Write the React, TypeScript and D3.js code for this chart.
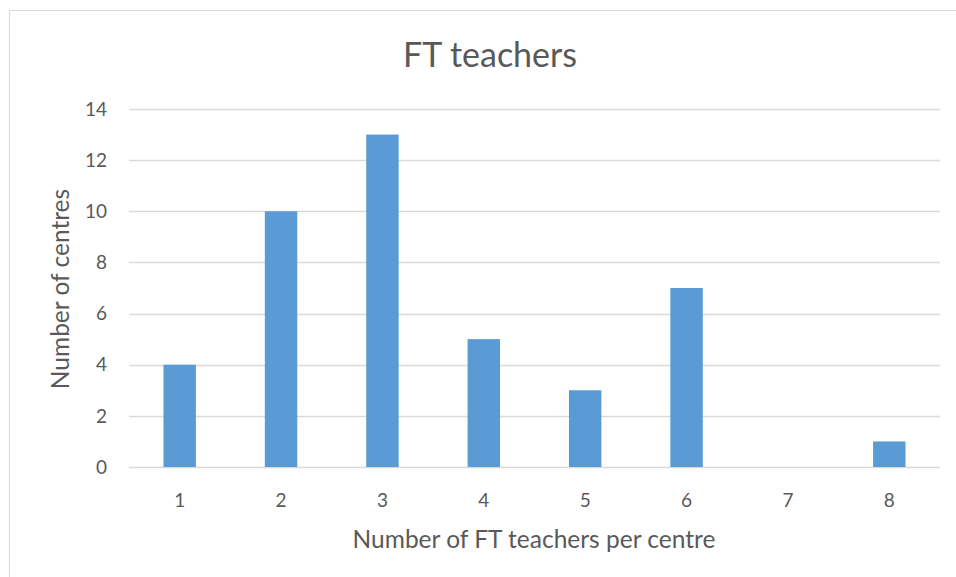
import * as d3 from "d3";
import React from "react";

const categories = ["1", "2", "3", "4", "5", "6", "7", "8"];
const counts = [4, 10, 13, 5, 3, 7, 0, 1];
const yTicks = [0, 2, 4, 6, 8, 10, 12, 14];

const chartTitle = "FT teachers";
const xTitle = "Number of FT teachers per centre";
const yTitle = "Number of centres";

export default function App() {
  const ref = React.useRef<SVGSVGElement | null>(null);

  const width = 956;
  const height = 577;
  const plot = { left: 129, right: 940, top: 109, bottom: 467 };
  const font = "Lato, 'Liberation Sans', sans-serif";
  const textColor = "#595959";

  React.useEffect(() => {
    if (!ref.current) return;
    const svg = d3.select(ref.current);
    svg.selectAll("*").remove();

    svg
      .append("rect")
      .attr("x", 9.5)
      .attr("y", 10.5)
      .attr("width", width + 20)
      .attr("height", height + 20)
      .attr("fill", "#fff")
      .attr("stroke", "#D9D9D9");

    const x = d3
      .scaleBand<string>()
      .domain(categories)
      .range([plot.left, plot.right])
      .paddingInner(0.68)
      .paddingOuter(0.34);

    const y = d3.scaleLinear().domain([0, 14]).range([plot.bottom, plot.top]);

    // gridlines
    svg
      .append("g")
      .selectAll("line")
      .data(yTicks)
      .join("line")
      .attr("x1", plot.left)
      .attr("x2", plot.right)
      .attr("y1", (d) => Math.round(y(d)) + 0.5)
      .attr("y2", (d) => Math.round(y(d)) + 0.5)
      .attr("stroke", "#D9D9D9")
      .attr("stroke-width", 1.3);

    // y tick labels
    svg
      .append("g")
      .selectAll("text")
      .data(yTicks)
      .join("text")
      .text((d) => d)
      .attr("x", 107)
      .attr("y", (d) => y(d))
      .attr("dy", "0.35em")
      .attr("text-anchor", "end")
      .attr("font-family", font)
      .attr("font-size", 19)
      .attr("fill", textColor);

    // bars
    svg
      .append("g")
      .selectAll("rect")
      .data(counts)
      .join("rect")
      .attr("x", (d, i) => x(categories[i])!)
      .attr("y", (d) => y(d))
      .attr("width", x.bandwidth())
      .attr("height", (d) => y(0) - y(d))
      .attr("fill", "#5B9BD5");

    // x tick labels
    svg
      .append("g")
      .selectAll("text")
      .data(categories)
      .join("text")
      .text((d) => d)
      .attr("x", (d) => x(d)! + x.bandwidth() / 2)
      .attr("y", 500)
      .attr("dy", "0.35em")
      .attr("text-anchor", "middle")
      .attr("font-family", font)
      .attr("font-size", 19)
      .attr("fill", textColor);

    svg
      .append("text")
      .text(chartTitle)
      .attr("x", 490)
      .attr("y", 55)
      .attr("dy", "0.35em")
      .attr("text-anchor", "middle")
      .attr("font-family", font)
      .attr("font-size", 34)
      .attr("fill", textColor);

    svg
      .append("text")
      .text(xTitle)
      .attr("x", 534)
      .attr("y", 539)
      .attr("dy", "0.35em")
      .attr("text-anchor", "middle")
      .attr("font-family", font)
      .attr("font-size", 24.5)
      .attr("fill", textColor);

    svg
      .append("text")
      .text(yTitle)
      .attr("transform", `translate(60, 289) rotate(-90)`)
      .attr("dy", "0.35em")
      .attr("text-anchor", "middle")
      .attr("font-family", font)
      .attr("font-size", 24.5)
      .attr("fill", textColor);
  });

  return (
    <svg
      ref={ref}
      width={width}
      height={height}
      style={{ position: "absolute", left: 0, top: 0, background: "#fff" }}
    ></svg>
  );
}
